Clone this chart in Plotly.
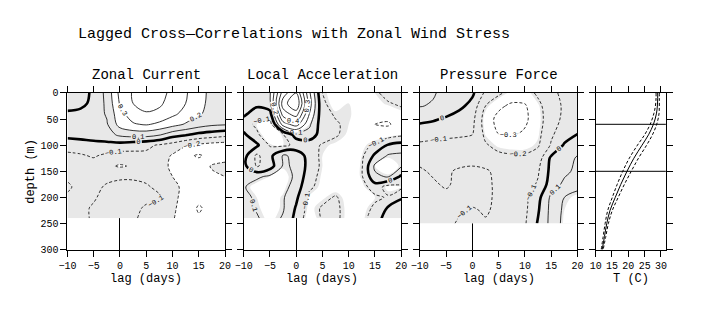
import plotly.graph_objects as go

# ---------------- data ----------------
lags = [-10, -7.5, -5, -2.5, 0, 2.5, 5, 7.5, 10, 12.5, 15, 17.5, 20]
depths_uv = [0, 20, 40, 60, 80, 100, 120, 140, 160, 180, 200, 220, 240]
depths_pf = [0, 25, 50, 75, 100, 125, 150, 175, 200, 225, 250]

zonal_current = [
    [-0.06, -0.04, 0.02, 0.13, 0.33, 0.41, 0.46, 0.44, 0.37, 0.31, 0.24, 0.17, 0.15],
    [-0.05, -0.03, 0.03, 0.12, 0.31, 0.40, 0.44, 0.42, 0.35, 0.30, 0.23, 0.17, 0.15],
    [0.02, 0.03, 0.05, 0.11, 0.27, 0.35, 0.39, 0.37, 0.32, 0.27, 0.21, 0.17, 0.15],
    [0.05, 0.06, 0.07, 0.09, 0.24, 0.29, 0.31, 0.28, 0.24, 0.19, 0.15, 0.12, 0.11],
    [0.03, 0.04, 0.04, 0.06, 0.12, 0.14, 0.14, 0.11, 0.04, 0.01, -0.03, -0.05, -0.07],
    [-0.06, -0.05, -0.03, -0.03, -0.04, -0.06, -0.08, -0.11, -0.14, -0.19, -0.22, -0.24, -0.25],
    [-0.12, -0.11, -0.09, -0.12, -0.14, -0.13, -0.12, -0.15, -0.21, -0.28, -0.31, -0.27, -0.25],
    [-0.11, -0.12, -0.14, -0.18, -0.21, -0.19, -0.15, -0.16, -0.22, -0.28, -0.26, -0.19, -0.17],
    [-0.11, -0.12, -0.13, -0.12, -0.11, -0.11, -0.12, -0.15, -0.20, -0.25, -0.25, -0.22, -0.20],
    [-0.09, -0.12, -0.12, -0.09, -0.08, -0.08, -0.09, -0.12, -0.17, -0.23, -0.26, -0.24, -0.23],
    [-0.11, -0.12, -0.11, -0.07, -0.06, -0.07, -0.08, -0.09, -0.17, -0.24, -0.27, -0.25, -0.24],
    [-0.13, -0.12, -0.09, -0.06, -0.05, -0.08, -0.11, -0.12, -0.18, -0.25, -0.31, -0.27, -0.25],
    [-0.14, -0.12, -0.09, -0.06, -0.05, -0.09, -0.12, -0.13, -0.19, -0.26, -0.29, -0.27, -0.25],
]

local_acceleration = [
    [0.05, 0.06, 0.09, 0.45, 0.60, 0.22, -0.10, -0.16, -0.14, -0.16, -0.12, -0.06, -0.05],
    [0.04, 0.03, 0.08, 0.55, 0.70, 0.25, -0.08, -0.15, -0.12, -0.16, -0.14, -0.11, -0.08],
    [0.02, -0.05, -0.04, 0.45, 0.55, 0.20, -0.07, -0.11, -0.11, -0.16, -0.18, -0.17, -0.14],
    [-0.05, -0.12, -0.15, 0.25, 0.35, 0.12, -0.06, -0.09, -0.12, -0.17, -0.20, -0.21, -0.16],
    [0.02, -0.08, -0.18, -0.11, 0.05, 0.06, -0.05, -0.09, -0.13, -0.17, -0.17, -0.15, -0.12],
    [0.03, 0.02, -0.11, -0.12, -0.08, -0.06, -0.11, -0.13, -0.15, -0.14, -0.08, 0.01, 0.04],
    [0.04, -0.12, -0.03, 0.11, 0.08, -0.05, -0.12, -0.15, -0.16, -0.12, 0.02, 0.11, 0.12],
    [0.03, -0.11, -0.05, 0.11, 0.09, -0.04, -0.12, -0.16, -0.18, -0.11, 0.12, 0.16, 0.11],
    [0.05, 0.08, 0.12, 0.15, 0.08, -0.06, -0.13, -0.17, -0.18, -0.11, 0.08, 0.11, -0.02],
    [0.09, 0.15, 0.17, 0.14, 0.05, -0.08, -0.14, -0.15, -0.17, -0.14, -0.05, -0.14, -0.12],
    [0.07, 0.12, 0.16, 0.11, 0.02, -0.13, -0.13, -0.09, -0.15, -0.16, -0.12, -0.09, -0.01],
    [0.06, 0.11, 0.15, 0.11, -0.01, -0.14, -0.09, -0.08, -0.14, -0.15, -0.08, 0.01, 0.05],
    [0.05, 0.09, 0.14, 0.09, -0.03, -0.16, -0.09, -0.08, -0.14, -0.14, -0.04, 0.04, 0.07],
]

pressure_force = [
    [0.15, 0.11, 0.07, 0.04, 0.02, -0.12, -0.18, -0.24, -0.25, -0.18, -0.12, -0.08, -0.06],
    [0.105, 0.09, 0.05, 0.03, -0.04, -0.20, -0.28, -0.32, -0.31, -0.23, -0.13, -0.09, -0.07],
    [0.02, 0.01, -0.01, -0.06, -0.07, -0.25, -0.33, -0.36, -0.32, -0.24, -0.14, -0.08, -0.05],
    [-0.04, -0.05, -0.07, -0.08, -0.09, -0.23, -0.31, -0.32, -0.29, -0.23, -0.12, -0.05, -0.01],
    [-0.12, -0.13, -0.13, -0.13, -0.14, -0.19, -0.23, -0.24, -0.24, -0.21, -0.09, 0.01, 0.06],
    [-0.12, -0.14, -0.14, -0.13, -0.13, -0.14, -0.17, -0.18, -0.18, -0.15, 0.02, 0.06, 0.11],
    [-0.09, -0.11, -0.11, -0.09, -0.08, -0.09, -0.12, -0.15, -0.15, -0.11, 0.03, 0.08, 0.12],
    [-0.07, -0.09, -0.11, -0.08, -0.07, -0.08, -0.12, -0.15, -0.14, -0.09, 0.05, 0.12, 0.16],
    [-0.07, -0.08, -0.08, -0.07, -0.07, -0.08, -0.12, -0.14, -0.13, -0.03, 0.12, 0.20, 0.24],
    [-0.07, -0.07, -0.08, -0.09, -0.11, -0.09, -0.12, -0.13, -0.12, -0.01, 0.13, 0.22, 0.26],
    [-0.07, -0.07, -0.08, -0.11, -0.13, -0.11, -0.12, -0.13, -0.11, 0.01, 0.13, 0.23, 0.27],
]

# significance level used for the grey shading of each panel
signif = [0.2, 0.12, 0.22]

temp_depth = [0, 10, 25, 40, 60, 80, 100, 125, 150, 175, 200, 225, 250, 275, 300]
temp_mean = [29.0, 29.0, 28.9, 28.6, 27.7, 26.2, 24.2, 21.7, 19.6, 17.7, 16.0, 14.4, 13.4, 12.7, 12.0]
temp_std = [0.5, 0.5, 0.6, 0.8, 1.0, 1.2, 1.4, 1.4, 1.3, 1.1, 0.9, 0.7, 0.5, 0.4, 0.3]
layer_depths = [60, 150]

panel_titles = ["Zonal Current", "Local Acceleration", "Pressure Force"]
lag_ticks = [-10, -5, 0, 5, 10, 15, 20]
depth_ticks = [0, 50, 100, 150, 200, 250, 300]
temp_ticks = [10, 15, 20, 25, 30]

# ---------------- figure ----------------
W, H = 711, 334
FONT = "Liberation Mono"
GREY = "#e8e8e8"
fig = go.Figure()

panels = [
    (zonal_current, depths_uv),
    (local_acceleration, depths_uv),
    (pressure_force, depths_pf),
]
x_px = [(59.7, 220.7), (239.7, 400.7), (419.7, 580.7), (599.3, 671.0)]
y_top, y_bot = 92.0, 254.0

# white outside [-t, t], grey inside
shade_scale = [[0, "white"], [0.25, "white"], [0.25, GREY], [0.75, GREY],
               [0.75, "white"], [1, "white"]]
lab = dict(size=7, color="black", family=FONT)

for i, (z, dep) in enumerate(panels):
    xa = "x" if i == 0 else f"x{i+1}"
    ya = "y" if i == 0 else f"y{i+1}"
    t = signif[i]
    fig.add_trace(go.Contour(
        x=lags, y=dep, z=z, xaxis=xa, yaxis=ya,
        contours=dict(coloring="fill", start=-t, end=t, size=2 * t, showlines=False),
        colorscale=shade_scale, line=dict(width=0, smoothing=1),
        showscale=False, hoverinfo="skip"))
    fig.add_trace(go.Contour(
        x=lags, y=dep, z=z, xaxis=xa, yaxis=ya,
        contours=dict(coloring="none", start=-0.9, end=-0.1, size=0.1,
                      showlabels=True, labelfont=lab, labelformat=".1f"),
        line=dict(color="black", width=0.8, dash="3px,2px", smoothing=1),
        showscale=False, hoverinfo="skip"))
    fig.add_trace(go.Contour(
        x=lags, y=dep, z=z, xaxis=xa, yaxis=ya,
        contours=dict(coloring="none", start=0.1, end=0.9, size=0.1,
                      showlabels=True, labelfont=lab, labelformat=".1f"),
        line=dict(color="black", width=0.8, smoothing=1),
        showscale=False, hoverinfo="skip"))
    fig.add_trace(go.Contour(
        x=lags, y=dep, z=z, xaxis=xa, yaxis=ya,
        contours=dict(coloring="none", start=0, end=0, size=1,
                      showlabels=True, labelfont=lab, labelformat=".0f"),
        line=dict(color="black", width=2.6, smoothing=1),
        showscale=False, hoverinfo="skip"))

# temperature profile
t_lo = [m - s for m, s in zip(temp_mean, temp_std)]
t_hi = [m + s for m, s in zip(temp_mean, temp_std)]
for xs, dash in [(temp_mean, "solid"), (t_lo, "3px,2px"), (t_hi, "3px,2px")]:
    fig.add_trace(go.Scatter(x=xs, y=temp_depth, xaxis="x4", yaxis="y4", mode="lines",
                             line=dict(color="black", width=1, dash=dash, shape="spline"),
                             showlegend=False, hoverinfo="skip"))

for d in layer_depths:
    fig.add_shape(type="line", xref="x4 domain", yref="y4", x0=0, x1=1, y0=d, y1=d,
                  line=dict(color="black", width=1))

tickfont = dict(family=FONT, size=10, color="black")
common = dict(showline=True, linecolor="black", linewidth=1, mirror="ticks",
              ticks="outside", ticklen=6, tickwidth=1, tickcolor="black",
              showgrid=False, tickfont=tickfont, layer="above traces")

layout = dict(width=W, height=H, margin=dict(l=0, r=0, t=0, b=0),
              paper_bgcolor="white", plot_bgcolor="white", showlegend=False)

for i in range(4):
    sx = "" if i == 0 else str(i + 1)
    x0, x1 = x_px[i]
    xdom = [x0 / W, x1 / W]
    ydom = [1 - y_bot / H, 1 - y_top / H]
    if i < 3:
        xax = dict(common, domain=xdom, anchor="y" + sx, range=[-10, 20],
                   tickvals=lag_ticks, zeroline=True, zerolinecolor="black",
                   zerolinewidth=1)
    else:
        xax = dict(common, domain=xdom, anchor="y" + sx, range=[10, 31.5],
                   tickvals=temp_ticks, zeroline=False)
    yax = dict(common, domain=ydom, anchor="x" + sx, range=[300, 0],
               tickvals=depth_ticks, zeroline=False, showticklabels=(i == 0))
    layout["xaxis" + sx] = xax
    layout["yaxis" + sx] = yax

ann = []
ann.append(dict(text="Lagged Cross\u2014Correlations with Zonal Wind Stress",
                x=291 / W, y=1 - 32 / H, xref="paper", yref="paper", showarrow=False,
                xanchor="center", yanchor="middle", font=dict(family=FONT, size=15, color="black")))
for i, ttl in enumerate(panel_titles):
    cx = (x_px[i][0] + x_px[i][1]) / 2 / W
    ann.append(dict(text=ttl, x=cx, y=1 - 73 / H, xref="paper", yref="paper", showarrow=False,
                    xanchor="center", yanchor="middle", font=dict(family=FONT, size=14, color="black")))
    ann.append(dict(text="lag (days)", x=cx, y=1 - 284 / H, xref="paper", yref="paper",
                    showarrow=False, xanchor="center", yanchor="middle",
                    font=dict(family=FONT, size=12, color="black")))
ann.append(dict(text="T (C)", x=(x_px[3][0] + x_px[3][1]) / 2 / W, y=1 - 284 / H,
                xref="paper", yref="paper", showarrow=False, xanchor="center", yanchor="middle",
                font=dict(family=FONT, size=12, color="black")))
ann.append(dict(text="depth (m)", x=23 / W, y=1 - 173 / H, xref="paper", yref="paper",
                showarrow=False, textangle=-90, xanchor="center", yanchor="middle",
                font=dict(family=FONT, size=12, color="black")))
layout["annotations"] = ann

fig.update_layout(**layout)
fig.write_html("out.html")
